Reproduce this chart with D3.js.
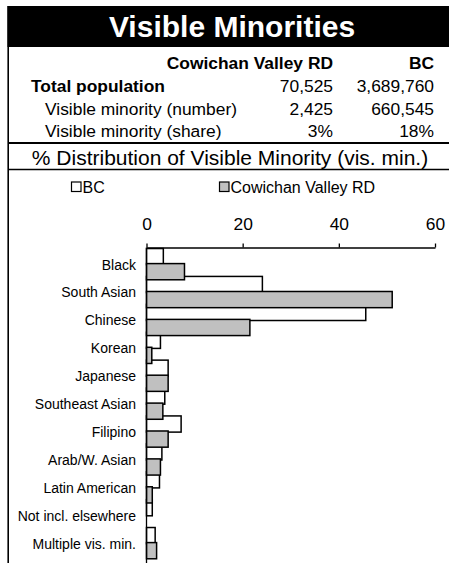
<!DOCTYPE html>
<html>
<head>
<meta charset="utf-8">
<script src="https://cdnjs.cloudflare.com/ajax/libs/d3/7.8.5/d3.min.js"></script>
<style>
	body { margin: 0; background: #fff; }
	svg { display: block; font-family: "Liberation Sans", Arial, sans-serif; }
	.cell { font-size: 17.4px; fill: #000; }
	.bold { font-weight: bold; }
	.cat-label { font-size: 14px; fill: #000; }
	.legend-label { font-size: 16px; fill: #000; }
	.x-axis text { font-size: 17.4px; fill: #000; font-family: "Liberation Sans", Arial, sans-serif; }
	.x-axis line, .x-axis path { stroke: #000; stroke-width: 1.3; }
</style>
</head>
<body>
<div class="wrapper"></div>
<script>

const title = "Visible Minorities";
const subTitle = "% Distribution of Visible Minority (vis. min.)";

// summary table
const columnHeads = ["Cowichan Valley RD", "BC"];
const rowLabels = ["Total population", "Visible minority (number)", "Visible minority (share)"];
const cvColumn = ["70,525", "2,425", "3%"];
const bcColumn = ["3,689,760", "660,545", "18%"];

// chart
const seriesNames = ["BC", "Cowichan Valley RD"];
const categories = ["Black", "South Asian", "Chinese", "Korean", "Japanese", "Southeast Asian",
	"Filipino", "Arab/W. Asian", "Latin American", "Not incl. elsewhere", "Multiple vis. min."];
const bcValues = [3.5, 24.1, 45.6, 2.9, 4.5, 3.8, 7.2, 3.2, 2.7, 1.2, 1.8];
const cvValues = [7.9, 51.1, 21.5, 1.1, 4.5, 3.4, 4.5, 2.9, 1.2, 0, 2.1];
const xTicks = [0, 20, 40, 60];

const width = 449;
const height = 563;

const svg = d3.select(".wrapper")
.append("svg")
.attr("width", width)
.attr("height", height)

// header
svg.append("rect")
.attr("x", 7.5)
.attr("y", 6)
.attr("width", width - 7.5)
.attr("height", 41)
.attr("fill", "#000")

svg.append("text")
.attr("x", 232)
.attr("y", 36.5)
.attr("text-anchor", "middle")
.attr("fill", "#fff")
.style("font-size", "30px")
.style("font-weight", "bold")
.text(title)

// left border
svg.append("line")
.attr("x1", 8.2).attr("x2", 8.2)
.attr("y1", 6).attr("y2", height)
.attr("stroke", "#000")
.attr("stroke-width", 1.6)

// table
const colRight = [333, 434];
const rowBase = [92, 115, 137];

svg.selectAll(".col-head")
.data(columnHeads)
.enter()
.append("text")
.attr("class", "cell bold col-head")
.attr("x", (d, i) => colRight[i])
.attr("y", 69)
.attr("text-anchor", "end")
.text(d => d)

svg.selectAll(".row-label")
.data(rowLabels)
.enter()
.append("text")
.attr("class", (d, i) => i == 0 ? "cell bold row-label" : "cell row-label")
.attr("x", (d, i) => i == 0 ? 31 : 45)
.attr("y", (d, i) => rowBase[i])
.text(d => d)

const cols = [cvColumn, bcColumn];
cols.forEach((col, c) => {
	svg.selectAll(".val" + c)
	.data(col)
	.enter()
	.append("text")
	.attr("class", "cell val" + c)
	.attr("x", colRight[c])
	.attr("y", (d, i) => rowBase[i])
	.attr("text-anchor", "end")
	.text(d => d)
})

svg.append("line")
.attr("x1", 8).attr("x2", width)
.attr("y1", 143).attr("y2", 143)
.attr("stroke", "#000")
.attr("stroke-width", 2.2)

svg.append("text")
.attr("x", 230)
.attr("y", 164.5)
.attr("text-anchor", "middle")
.style("font-size", "21px")
.attr("fill", "#000")
.text(subTitle)

svg.append("line")
.attr("x1", 8).attr("x2", width)
.attr("y1", 169.5).attr("y2", 169.5)
.attr("stroke", "#000")
.attr("stroke-width", 1.5)

// legend
const legendX = [71, 219];
const fills = ["#fff", "#c0c0c0"];

const legend = svg.selectAll(".legend")
.data(seriesNames)
.enter()
.append("g")
.attr("class", "legend")
.attr("transform", (d, i) => "translate(" + legendX[i] + ",187)")

legend.append("rect")
.attr("x", 0.5)
.attr("y", -5)
.attr("width", 9.5)
.attr("height", 9.5)
.attr("fill", (d, i) => fills[i])
.attr("stroke", "#000")
.attr("stroke-width", 1.2)

legend.append("text")
.attr("class", "legend-label")
.attr("x", 11.5)
.attr("y", 5.8)
.text(d => d)

// scales
const x = d3.scaleLinear()
.domain([0, 60])
.range([146.5, 435])

const y = d3.scaleBand()
.domain(categories)
.range([250.7, 557.6])

const axisY = 247.5;

svg.append("g")
.attr("class", "x-axis")
.attr("transform", "translate(0," + axisY + ")")
.call(d3.axisTop(x).tickValues(xTicks).tickSize(4).tickSizeOuter(0).tickPadding(13.5))

svg.selectAll(".cat-label")
.data(categories)
.enter()
.append("text")
.attr("class", "cat-label")
.attr("x", 136)
.attr("y", d => y(d) + y.bandwidth() / 2)
.attr("dy", "0.35em")
.attr("text-anchor", "end")
.text(d => d)

const barH = y.bandwidth() * 0.58;
const shift = y.bandwidth() * 0.27;

const bars = svg.append("g");

// BC behind, Cowichan on top
const series = [bcValues, cvValues];
series.forEach((vals, s) => {
	bars.selectAll(".bar" + s)
	.data(vals.map((v, i) => ({ cat: categories[i], value: v })).filter(d => d.value > 0))
	.enter()
	.append("rect")
	.attr("class", "bar" + s)
	.attr("x", x(0))
	.attr("y", d => y(d.cat) + y.bandwidth() / 2 + (s == 0 ? -shift : shift) - barH / 2 - 0.5)
	.attr("width", d => x(d.value) - x(0))
	.attr("height", barH)
	.attr("fill", fills[s])
	.attr("stroke", "#000")
	.attr("stroke-width", 1.5)
})

svg.append("line")
.attr("x1", x(0)).attr("x2", x(0))
.attr("y1", axisY).attr("y2", height)
.attr("stroke", "#000")
.attr("stroke-width", 1.3)

</script>
</body>
</html>
